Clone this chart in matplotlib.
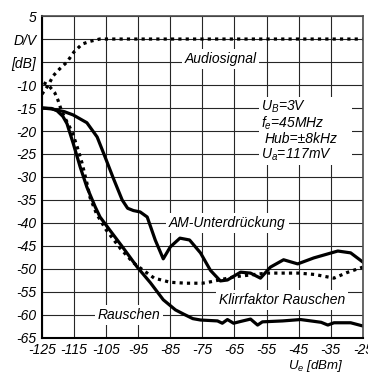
import matplotlib
matplotlib.use("Agg")
import matplotlib.pyplot as plt
from matplotlib.patches import Rectangle

plt.rcParams['font.family'] = ['Liberation Sans', 'DejaVu Sans']
plt.rcParams['font.style'] = 'italic'
plt.rcParams['font.size'] = 10
plt.rcParams['mathtext.fontset'] = 'custom'
plt.rcParams['mathtext.rm'] = 'Liberation Sans:italic'
plt.rcParams['mathtext.it'] = 'Liberation Sans:italic'

# x: U_e in dBm, y: D/V in dB
audio_x = [-125, -123, -121.5, -119.5, -117.2, -115, -112.5, -110, -107, -25]
audio_y = [-12, -10, -8, -6.5, -5, -2.8, -1.1, -0.5, 0, 0]

klirr_x = [-124.5, -123, -121, -120, -119, -117.8, -115.6, -114, -112.5, -111, -110,
           -108, -105, -100.5, -96.6, -93.4, -90, -85, -80, -75, -72.5, -65, -60,
           -55, -45, -40, -37, -34, -30, -25]
klirr_y = [-9.5, -10, -11.7, -13.3, -15.4, -17.2, -20.2, -23.5, -27, -31.3, -34.5,
           -38, -41.5, -45.6, -48.6, -50.3, -52, -52.9, -53.1, -53.1, -52.8, -51.7, -51.3,
           -50.9, -50.9, -51.2, -51.6, -52, -50.8, -49.6]

rausch_x = [-125, -122, -120.3, -118.5, -117.2, -115.3, -113.1, -111, -108.4, -106.9,
            -103.8, -99.7, -95.3, -91.2, -87.2, -83.4, -80.9, -78, -75.6, -70.3, -68.8,
            -67.2, -65.3, -63, -60, -57.8, -56.3, -50, -44.4, -38, -35.9, -34, -28.8, -25]
rausch_y = [-15, -15.1, -15.6, -16.8, -18.4, -22.6, -27.8, -32.2, -36.5, -38.7,
            -41.6, -45.4, -49.6, -53, -56.7, -58.9, -59.8, -60.8, -61.1, -61.3, -61.8,
            -61, -61.8, -61.4, -60.9, -62.2, -61.5, -61.3, -61, -61.6, -62.2, -61.7, -61.7, -62.4]

am_x = [-125, -122, -118, -115.3, -111, -107.8, -105.3, -102.8, -100, -98.3, -96.5,
        -94.4, -92.2, -89.7, -87.2, -85, -82, -79, -75.6, -72.5, -69.4, -67.2, -63.1,
        -60, -56.9, -53.8, -49.7, -45.3, -40.3, -32.8, -28.8, -25]
am_y = [-15, -15.2, -15.8, -16.5, -18.2, -21.3, -25.7, -30.2, -35, -36.8, -37.3,
        -37.6, -38.7, -43.7, -47.8, -45.2, -43.3, -43.7, -46.5, -50.3, -52.6, -52.4, -50.7,
        -50.9, -52, -49.6, -48, -48.9, -47.6, -46.1, -46.5, -48.5]

xticks = list(range(-125, -24, 10))
xlabels = ['-125', '-115', '-105', '-95', '-85', '-75', '-65', '-55', '-45', '-35', '-25']
yticks = list(range(5, -66, -5))
ylabels = ['5', 'D/V', '[dB]', '-10', '-15', '-20', '-25', '-30', '-35', '-40',
           '-45', '-50', '-55', '-60', '-65']

fig = plt.figure(figsize=(3.68, 3.73), dpi=100)
ax = fig.add_axes([0.114, 0.094, 0.872, 0.863])

ax.plot(audio_x, audio_y, color='black', lw=2.3, ls=(0, (1, 1.3)))
ax.plot(klirr_x, klirr_y, color='black', lw=2.3, ls=(0, (1, 1.3)))
ax.plot(rausch_x, rausch_y, color='black', lw=2.3, solid_joinstyle='round')
ax.plot(am_x, am_y, color='black', lw=2.3, solid_joinstyle='round')

ax.set_xlim(-125, -25)
ax.set_ylim(-65, 5)
ax.set_xticks(xticks)
ax.set_xticklabels(xlabels)
ax.set_yticks(yticks)
ax.set_yticklabels(ylabels)
ax.tick_params(length=0, labelsize=10)
ax.tick_params(axis='y', pad=4)
ax.tick_params(axis='x', pad=4)
ax.set_axisbelow(True)
ax.grid(True, color='0.15', lw=0.8)
for side in ['left', 'bottom']:
    ax.spines[side].set_linewidth(1.5)
for side in ['top', 'right']:
    ax.spines[side].set_linewidth(1.2)
    ax.spines[side].set_color('0.3')

ax.set_xlabel('U$_e$ [dBm]', fontsize=9.5)
ax.xaxis.set_label_coords(0.853, -0.063)

white = dict(facecolor='white', edgecolor='none', pad=2)
ax.text(-69.4, -4.4, 'Audiosignal', ha='center', va='center', bbox=white)
ax.text(-67.2, -40, 'AM-Unterdrückung', ha='center', va='center', bbox=white)
ax.text(-50.3, -56.8, 'Klirrfaktor Rauschen', ha='center', va='center', bbox=white)
ax.text(-97.8, -60, 'Rauschen', ha='center', va='center', bbox=white)

# parameter block
ax.add_patch(Rectangle((-57.5, -27.4), 29, 14.8, facecolor='white',
                       edgecolor='none', zorder=1))
ax.text(-56.6, -14.8, 'U$_B$=3V', ha='left', va='center')
ax.text(-56.8, -18.3, 'f$_e$=45MHz', ha='left', va='center')
ax.text(-55.6, -21.8, 'Hub=±8kHz', ha='left', va='center')
ax.text(-56.6, -25.2, 'U$_a$=117mV', ha='left', va='center')

fig.savefig('out.png', dpi=100)
